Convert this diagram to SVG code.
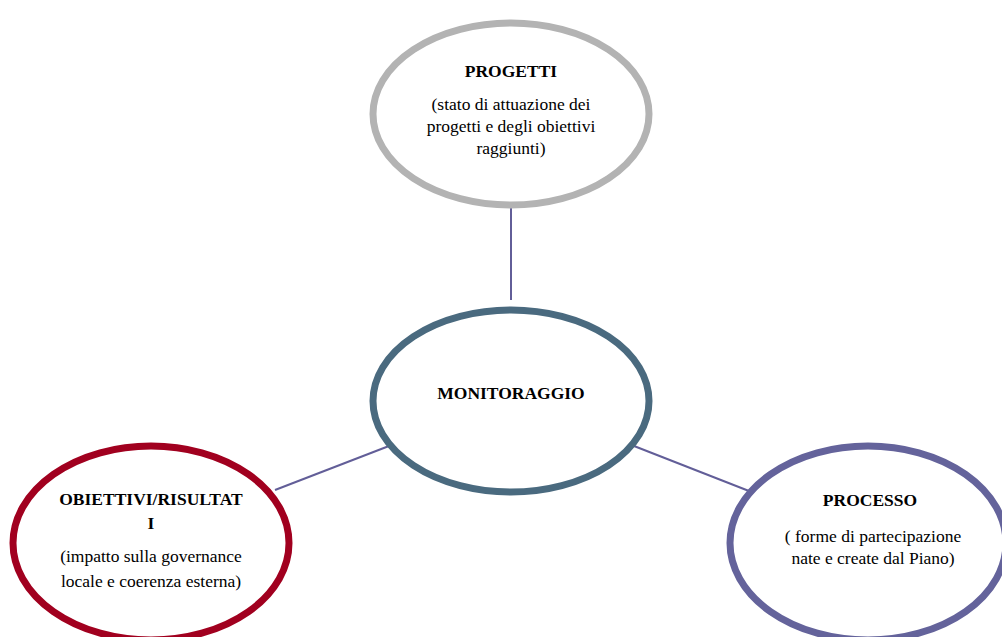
<svg xmlns="http://www.w3.org/2000/svg" width="1002" height="637" viewBox="0 0 1002 637">
  <style>
    .bg { fill: #ffffff; }
    .node { fill: #ffffff; stroke-width: 7; }
    .title { font-family: "Liberation Serif", "Times New Roman", serif; font-size: 17.5px; font-weight: bold; fill: #000; text-anchor: middle; }
    .desc { font-family: "Liberation Serif", "Times New Roman", serif; font-size: 17.5px; fill: #000; text-anchor: middle; }
    .link { stroke: #625e98; stroke-width: 2; fill: none; }
  </style>
  <rect class="bg" x="0" y="0" width="1002" height="637"/>

  <!-- connectors -->
  <g id="connectors">
    <line class="link" x1="511" y1="208" x2="511" y2="300"/>
    <line class="link" x1="275" y1="490" x2="389" y2="446"/>
    <line class="link" x1="634" y1="446" x2="749" y2="491"/>
  </g>

  <!-- top node -->
  <g id="progetti">
    <ellipse class="node" cx="511" cy="114" rx="138" ry="91" stroke="#b3b3b3"/>
    <text class="title" x="511" y="77">PROGETTI</text>
    <text class="desc" x="511" y="110">(stato di attuazione dei</text>
    <text class="desc" x="511" y="132">progetti e degli obiettivi</text>
    <text class="desc" x="511" y="154">raggiunti)</text>
  </g>

  <!-- central node -->
  <g id="monitoraggio">
    <ellipse class="node" cx="511" cy="401" rx="138" ry="91" stroke="#4a6a7f" stroke-width="8"/>
    <text class="title" x="511" y="399">MONITORAGGIO</text>
  </g>

  <!-- bottom-left node -->
  <g id="obiettivi">
    <ellipse class="node" cx="151" cy="543" rx="138" ry="97" stroke="#a1001f"/>
    <text class="title" x="151" y="505">OBIETTIVI/RISULTAT</text>
    <text class="title" x="151" y="529">I</text>
    <text class="desc" x="151" y="562">(impatto sulla governance</text>
    <text class="desc" x="151" y="587">locale e coerenza esterna)</text>
  </g>

  <!-- bottom-right node -->
  <g id="processo">
    <ellipse class="node" cx="868" cy="543" rx="138" ry="97" stroke="#64639b"/>
    <text class="title" x="870" y="506">PROCESSO</text>
    <text class="desc" x="873" y="542">( forme di partecipazione</text>
    <text class="desc" x="873" y="564">nate e create dal Piano)</text>
  </g>
</svg>
